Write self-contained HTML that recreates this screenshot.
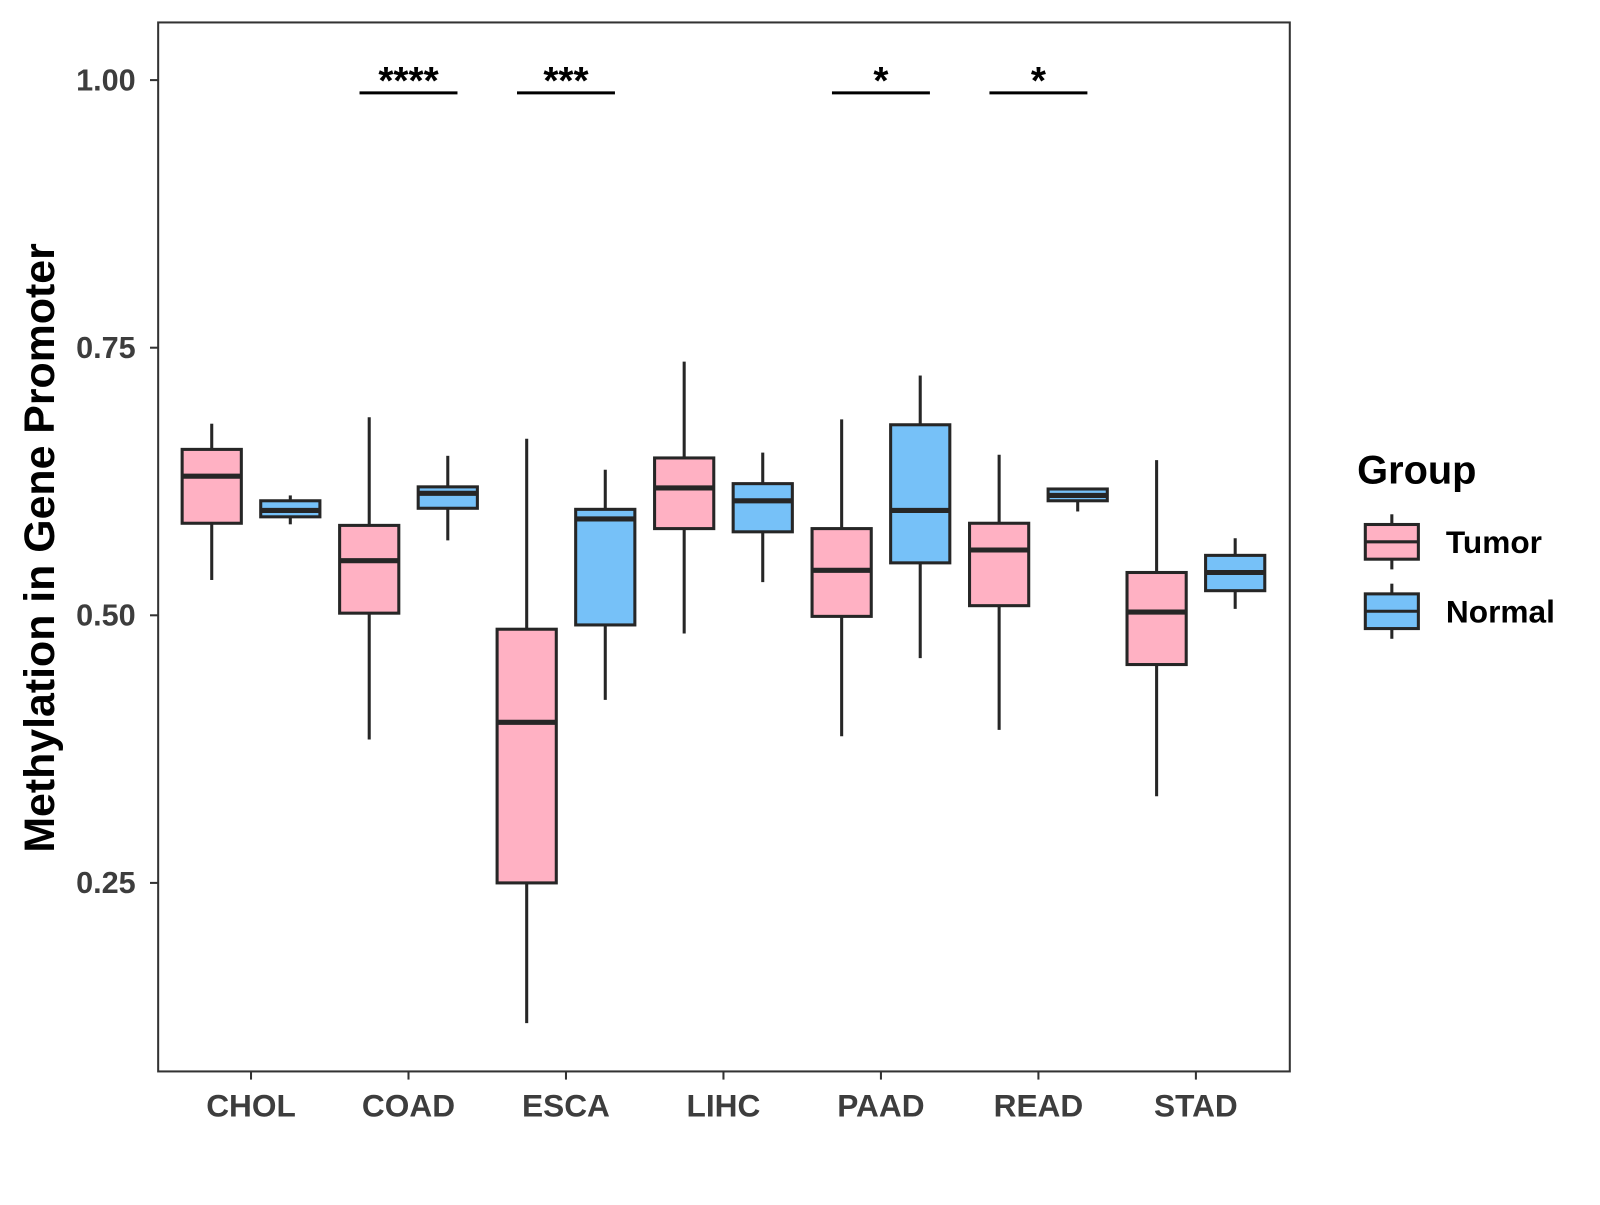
<!DOCTYPE html>
<html><head><meta charset="utf-8"><style>
body{margin:0;background:#fff;}
svg text{font-family:"Liberation Sans",Arial,sans-serif;font-weight:bold;}
</style></head><body>
<svg id="chart" width="1600" height="1200" viewBox="0 0 1568 1176" xmlns="http://www.w3.org/2000/svg"></svg>
<script>
const categories=["CHOL","COAD","ESCA","LIHC","PAAD","READ","STAD"];
const groups=["Tumor","Normal"];
// [low, q1, median, q3, high]
const tumorStats=[[0.533,0.586,0.630,0.655,0.679],[0.384,0.502,0.551,0.584,0.685],[0.119,0.250,0.400,0.487,0.665],[0.483,0.581,0.619,0.647,0.737],[0.387,0.499,0.542,0.581,0.683],[0.393,0.509,0.561,0.586,0.650],[0.331,0.454,0.503,0.540,0.645]];
const normalStats=[[0.585,0.592,0.598,0.607,0.612],[0.570,0.600,0.614,0.620,0.649],[0.421,0.491,0.590,0.599,0.636],[0.531,0.578,0.607,0.623,0.652],[0.460,0.549,0.598,0.678,0.724],[0.597,0.607,0.612,0.618,0.619],[0.506,0.523,0.540,0.556,0.572]];
const yTicks=[0.25,0.50,0.75,1.00];
const yTickLabels=["0.25","0.50","0.75","1.00"];
const sigCats=["COAD","ESCA","PAAD","READ"];
const sigLabels=["****","***","*","*"];

const svg=document.getElementById('chart');
const NS="http://www.w3.org/2000/svg";
function mk(t,a,p){const e=document.createElementNS(NS,t);for(const k in a)e.setAttribute(k,a[k]);(p||svg).appendChild(e);return e;}
const yS=v=>603-(v-0.5)*1049;
const xS=i=>246+i*154.33;
const colors=["#FFB1C3","#76C1F8"];

const panel=mk('rect',{x:155,y:22,width:1109,height:1028,fill:'none',stroke:'#333','stroke-width':2});



yTicks.forEach((v,i)=>{
  const t=mk('line',{x1:147,x2:155,y1:yS(v),y2:yS(v),stroke:'#333','stroke-width':2});
  
  
  const l=mk('text',{x:133,y:yS(v)+10,'text-anchor':'end','font-size':30,fill:'#3d3d3d'});
  l.textContent=yTickLabels[i];
  
  
});
categories.forEach((c,i)=>{
  const t=mk('line',{x1:xS(i),x2:xS(i),y1:1050,y2:1058,stroke:'#333','stroke-width':2});
  
  
  const l=mk('text',{x:xS(i),y:1094,'text-anchor':'middle','font-size':31,fill:'#3d3d3d'});
  l.textContent=c;
  
  
});
const yt=mk('text',{x:0,y:0,'text-anchor':'middle','font-size':42,fill:'#000',transform:'translate(53,537) rotate(-90)'});
yt.textContent="Methylation in Gene Promoter";



function drawBox(cx,s,col,name){
  const g=mk('g',{});
  
  
  const w=58;
  mk('line',{x1:cx,x2:cx,y1:yS(s[4]),y2:yS(s[3]),stroke:'#262626','stroke-width':3},g);
  mk('line',{x1:cx,x2:cx,y1:yS(s[1]),y2:yS(s[0]),stroke:'#262626','stroke-width':3},g);
  mk('rect',{x:cx-w/2,y:yS(s[3]),width:w,height:yS(s[1])-yS(s[3]),fill:col,stroke:'#262626','stroke-width':3},g);
  mk('line',{x1:cx-w/2,x2:cx+w/2,y1:yS(s[2]),y2:yS(s[2]),stroke:'#262626','stroke-width':5},g);
}
categories.forEach((c,i)=>{
  drawBox(xS(i)-38.5,tumorStats[i],colors[0],'box-'+c.toLowerCase()+'-tumor');
  drawBox(xS(i)+38.5,normalStats[i],colors[1],'box-'+c.toLowerCase()+'-normal');
});
sigCats.forEach((c,j)=>{
  const i=categories.indexOf(c);
  const b=mk('line',{x1:xS(i)-48,x2:xS(i)+48,y1:91,y2:91,stroke:'#000','stroke-width':3});
  
  
  const t=mk('text',{x:xS(i),y:92,'text-anchor':'middle','font-size':38,fill:'#000'});
  t.textContent=sigLabels[j];
  
  
});
const lt=mk('text',{x:1330,y:474,'font-size':39,fill:'#000'});
lt.textContent="Group";


groups.forEach((gname,k)=>{
  const y0=514+k*68;
  const g=mk('g',{});
  
  
  mk('line',{x1:1364,x2:1364,y1:y0-10,y2:y0+44,stroke:'#262626','stroke-width':3},g);
  mk('rect',{x:1338,y:y0,width:52,height:34,fill:colors[k],stroke:'#262626','stroke-width':3},g);
  mk('line',{x1:1338,x2:1390,y1:y0+17,y2:y0+17,stroke:'#262626','stroke-width':3},g);
  const t=mk('text',{x:1417,y:y0+28,'font-size':31,fill:'#000'},g);
  t.textContent=gname;
});
</script>
</body></html>
